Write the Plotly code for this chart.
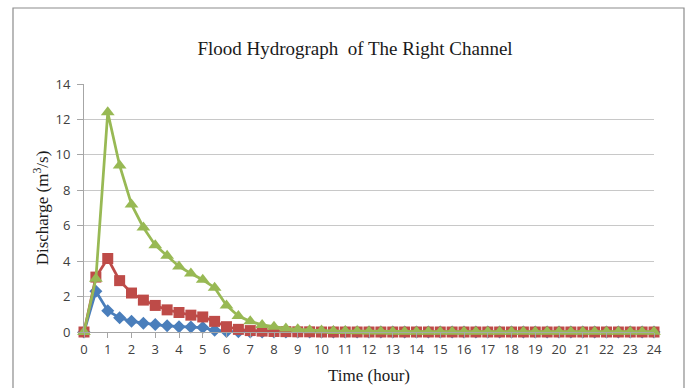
import plotly.graph_objects as go

time_h = [i * 0.5 for i in range(49)]

q_blue = [0, 2.3, 1.2, 0.8, 0.6, 0.5, 0.42, 0.35, 0.3, 0.28, 0.25, 0.1, 0.03, 0.01, 0.0,
          0, 0, 0, 0, 0, 0, 0, 0, 0, 0, 0, 0, 0, 0, 0, 0, 0, 0, 0, 0, 0, 0, 0, 0, 0, 0, 0, 0, 0, 0, 0, 0, 0, 0]
q_red = [0, 3.1, 4.15, 2.9, 2.2, 1.8, 1.5, 1.25, 1.1, 0.95, 0.85, 0.6, 0.3, 0.15, 0.08, 0.05, 0.03, 0.02,
         0.01, 0.01, 0, 0, 0, 0, 0, 0, 0, 0, 0, 0, 0, 0, 0, 0, 0, 0, 0, 0, 0, 0, 0, 0, 0, 0, 0, 0, 0, 0, 0]
q_green = [0, 3.0, 12.4, 9.4, 7.2, 5.9, 4.9, 4.3, 3.7, 3.3, 2.95, 2.5, 1.5, 0.9, 0.6, 0.4, 0.3, 0.2,
           0.15, 0.1, 0.08, 0.06, 0.05, 0.04, 0.03, 0.03, 0.02, 0.02, 0.02, 0.02, 0.02, 0.02, 0.02,
           0.02, 0.02, 0.02, 0.02, 0.02, 0.02, 0.02, 0.02, 0.02, 0.02, 0.02, 0.02, 0.02, 0.02, 0.02, 0.02]

x_ticks = list(range(0, 25))
y_ticks = [0, 2, 4, 6, 8, 10, 12, 14]

fig = go.Figure()
fig.add_trace(go.Scatter(x=time_h, y=q_blue, mode="lines+markers",
                         line=dict(color="#4A7EBB", width=2.75),
                         marker=dict(symbol="diamond", size=10, color="#4A7EBB"),
                         cliponaxis=False))
fig.add_trace(go.Scatter(x=time_h, y=q_red, mode="lines+markers",
                         line=dict(color="#BE4B48", width=2.75),
                         marker=dict(symbol="square", size=11, color="#BE4B48"),
                         cliponaxis=False))
fig.add_trace(go.Scatter(x=time_h, y=q_green, mode="lines+markers",
                         line=dict(color="#98B954", width=2.75),
                         marker=dict(symbol="triangle-up", size=12, color="#98B954"),
                         cliponaxis=False))

tick_font = dict(family="Open Sans, Lato, sans-serif", size=13, color="#404040")
serif = "Liberation Serif, Times New Roman, serif"

fig.update_layout(
    width=691, height=388,
    margin=dict(l=84, r=37, t=84, b=56),
    paper_bgcolor="white", plot_bgcolor="white",
    showlegend=False,
    title=dict(text="Flood Hydrograph  of The Right Channel",
               font=dict(family=serif, size=19, color="#1a1a1a"),
               x=355 / 691, xanchor="center", y=1 - 48 / 388, yanchor="middle"),
    xaxis=dict(range=[0, 24], tickmode="array", tickvals=x_ticks,
               ticktext=[str(t) for t in x_ticks], tickfont=tick_font,
               automargin=False,
               showgrid=False, zeroline=False, showline=True, linecolor="#a6a6a6",
               linewidth=1, ticks="outside", ticklen=5, tickcolor="#a6a6a6",
               title=dict(text="Time (hour)", font=dict(family=serif, size=17, color="#1a1a1a"),
                          standoff=12)),
    yaxis=dict(range=[0, 14], tickmode="array", tickvals=y_ticks,
               ticktext=[str(t) for t in y_ticks], tickfont=tick_font,
               ticklabelstandoff=4, automargin=False,
               showgrid=True, gridcolor="#c8c8c8", gridwidth=1, zeroline=False,
               showline=True, linecolor="#a6a6a6", linewidth=1,
               ticks="outside", ticklen=6, tickcolor="#a6a6a6",
               title=dict(text="Discharge (m<sup>3</sup>/s)",
                          font=dict(family=serif, size=17, color="#1a1a1a"),
                          standoff=2)),
)

# outer chart frame
fig.add_shape(type="rect", xref="paper", yref="paper",
              x0=(13 - 84) / 570, x1=(684 - 84) / 570,
              y0=(332 - 400) / 248, y1=(332 - 8) / 248,
              line=dict(color="#8c8c8c", width=1.2), layer="below")

fig.write_html("out.html")
